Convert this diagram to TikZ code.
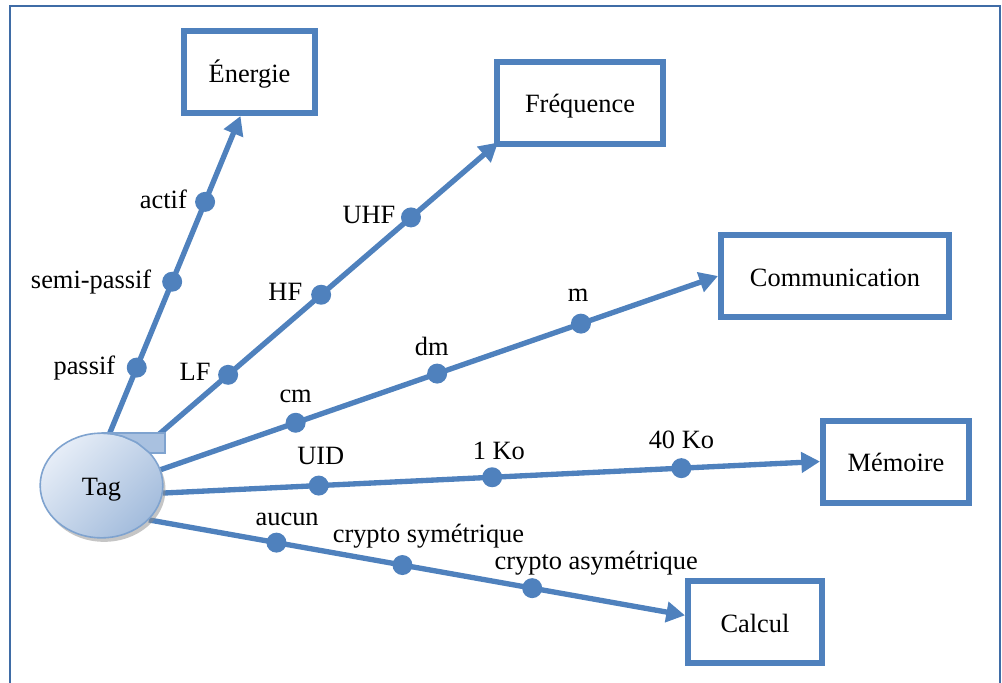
\documentclass[tikz,border=0pt]{standalone}
\usepackage{fontspec}
\setmainfont{Liberation Serif}
\usetikzlibrary{shapes.geometric, arrows.meta}
\usetikzlibrary{shadows, backgrounds}
\usetikzlibrary{positioning}
\newcommand{\lblfont}{\fontsize{19.8}{23}\selectfont}
\definecolor{rfidblue}{HTML}{4F81BD}
\definecolor{framecol}{HTML}{3F6CA6}
\definecolor{taglight}{HTML}{E6EDF7}
\definecolor{tagdark}{HTML}{A3BCDC}
\definecolor{tagedge}{HTML}{7FA3CF}
\definecolor{tabfill}{HTML}{A9C1E0}
\tikzstyle{category} = [rectangle, draw=rfidblue, line width=4.5pt, minimum height=61.5pt, text height=15pt, text depth=0pt, text centered, font=\lblfont]
\tikzstyle{tag_node} = [ellipse, draw=tagedge, line width=1.2pt, left color=taglight, right color=tagdark, shading angle=45, minimum width=92pt, minimum height=78.5pt, text height=15pt, text depth=0pt, font=\lblfont, drop shadow={shadow xshift=2pt, shadow yshift=-3pt, fill=black!45, opacity=0.5}]
\tikzstyle{branch} = [line width=4pt, rfidblue, -{Triangle[length=14pt, width=15pt]}]
\tikzstyle{bead} = [circle, fill=rfidblue, inner sep=0pt, minimum size=15pt]
\tikzstyle{value_label} = [inner sep=0pt, text depth=0pt, font=\lblfont]

\begin{document}
\begin{tikzpicture}[x=0.75pt, y=-0.75pt]

    \useasboundingbox (0,0) rectangle (1002,682);

    % the five categories
    \node (energie) [category, minimum width=98pt] at (249.5,72) {Énergie};
    \node (frequence) [category, minimum width=124.5pt] at (580,102.5) {Fréquence};
    \node (communication) [category, minimum width=171pt] at (835,276) {Communication};
    \node (memoire) [category, minimum width=109.5pt] at (896,461.5) {Mémoire};
    \node (calcul) [category, minimum width=100.5pt] at (755,622) {Calcul};

    \node (tag) [tag_node] at (101.5,485.5) {Tag};
    \filldraw [fill=tabfill, draw=tagedge, line width=1.2pt]
        (101.5,433) -- (165,433) -- (165,453) -- (149.8,453) -- (136.8,442.5) -- (122.5,436.2) -- (112.2,433.8) -- cycle;

    \begin{scope}[on background layer]
        \draw [framecol, line width=1.5pt] (10,6) rectangle (1000,720);

        \draw [branch] (tag.81) -- node [bead, pos=0.206] (d11) {} node [bead, pos=0.477] (d12) {} node [bead, pos=0.729] (d13) {} ([xshift=-6.75pt]energie.south);
        \draw [branch] (tag.42) -- node [bead, pos=0.237] (d21) {} node [bead, pos=0.500] (d22) {} node [bead, pos=0.754] (d23) {} ([xshift=3pt, yshift=3pt]frequence.south west);
        \draw [branch] (tag.15) -- node [bead, pos=0.242] (d31) {} node [bead, pos=0.496] (d32) {} node [bead, pos=0.754] (d33) {} (communication.west);
        \draw [branch] (tag.-7) -- node [bead, pos=0.237] (d41) {} node [bead, pos=0.501] (d42) {} node [bead, pos=0.789] (d43) {} (memoire.west);
        \draw [branch] (tag.-36) -- node [bead, pos=0.238] (d51) {} node [bead, pos=0.473] (d52) {} node [bead, pos=0.715] (d53) {} ([yshift=5pt]calcul.west);
    \end{scope}

    % labels of the steps
    \node [value_label, left=6.5pt of d11, yshift=2pt] {passif};
    \node [value_label, left=6pt of d12, yshift=2pt] {semi-passif};
    \node [value_label, left=4pt of d13, yshift=2pt] {actif};

    \node [value_label, left=3.5pt of d21, yshift=2pt] {LF};
    \node [value_label, left=4.5pt of d22, yshift=2pt] {HF};
    \node [value_label, left=2pt of d23, yshift=2pt] {UHF};

    \node [value_label, above=5.5pt of d31] {cm};
    \node [value_label, above=3.5pt of d32, xshift=-4pt] {dm};
    \node [value_label, above=7pt of d33, xshift=-2pt] {m};

    \node [value_label, above=6pt of d41, xshift=1.5pt] {UID};
    \node [value_label, above=3.5pt of d42, xshift=5pt] {1 Ko};
    \node [value_label, above=5pt of d43] {40 Ko};

    \node [value_label, above=3.5pt of d51, xshift=8pt] {aucun};
    \node [value_label, above=7.5pt of d52, xshift=19.5pt] {crypto symétrique};
    \node [value_label, above=4.5pt of d53, xshift=48pt] {crypto asymétrique};

\end{tikzpicture}
\end{document}
